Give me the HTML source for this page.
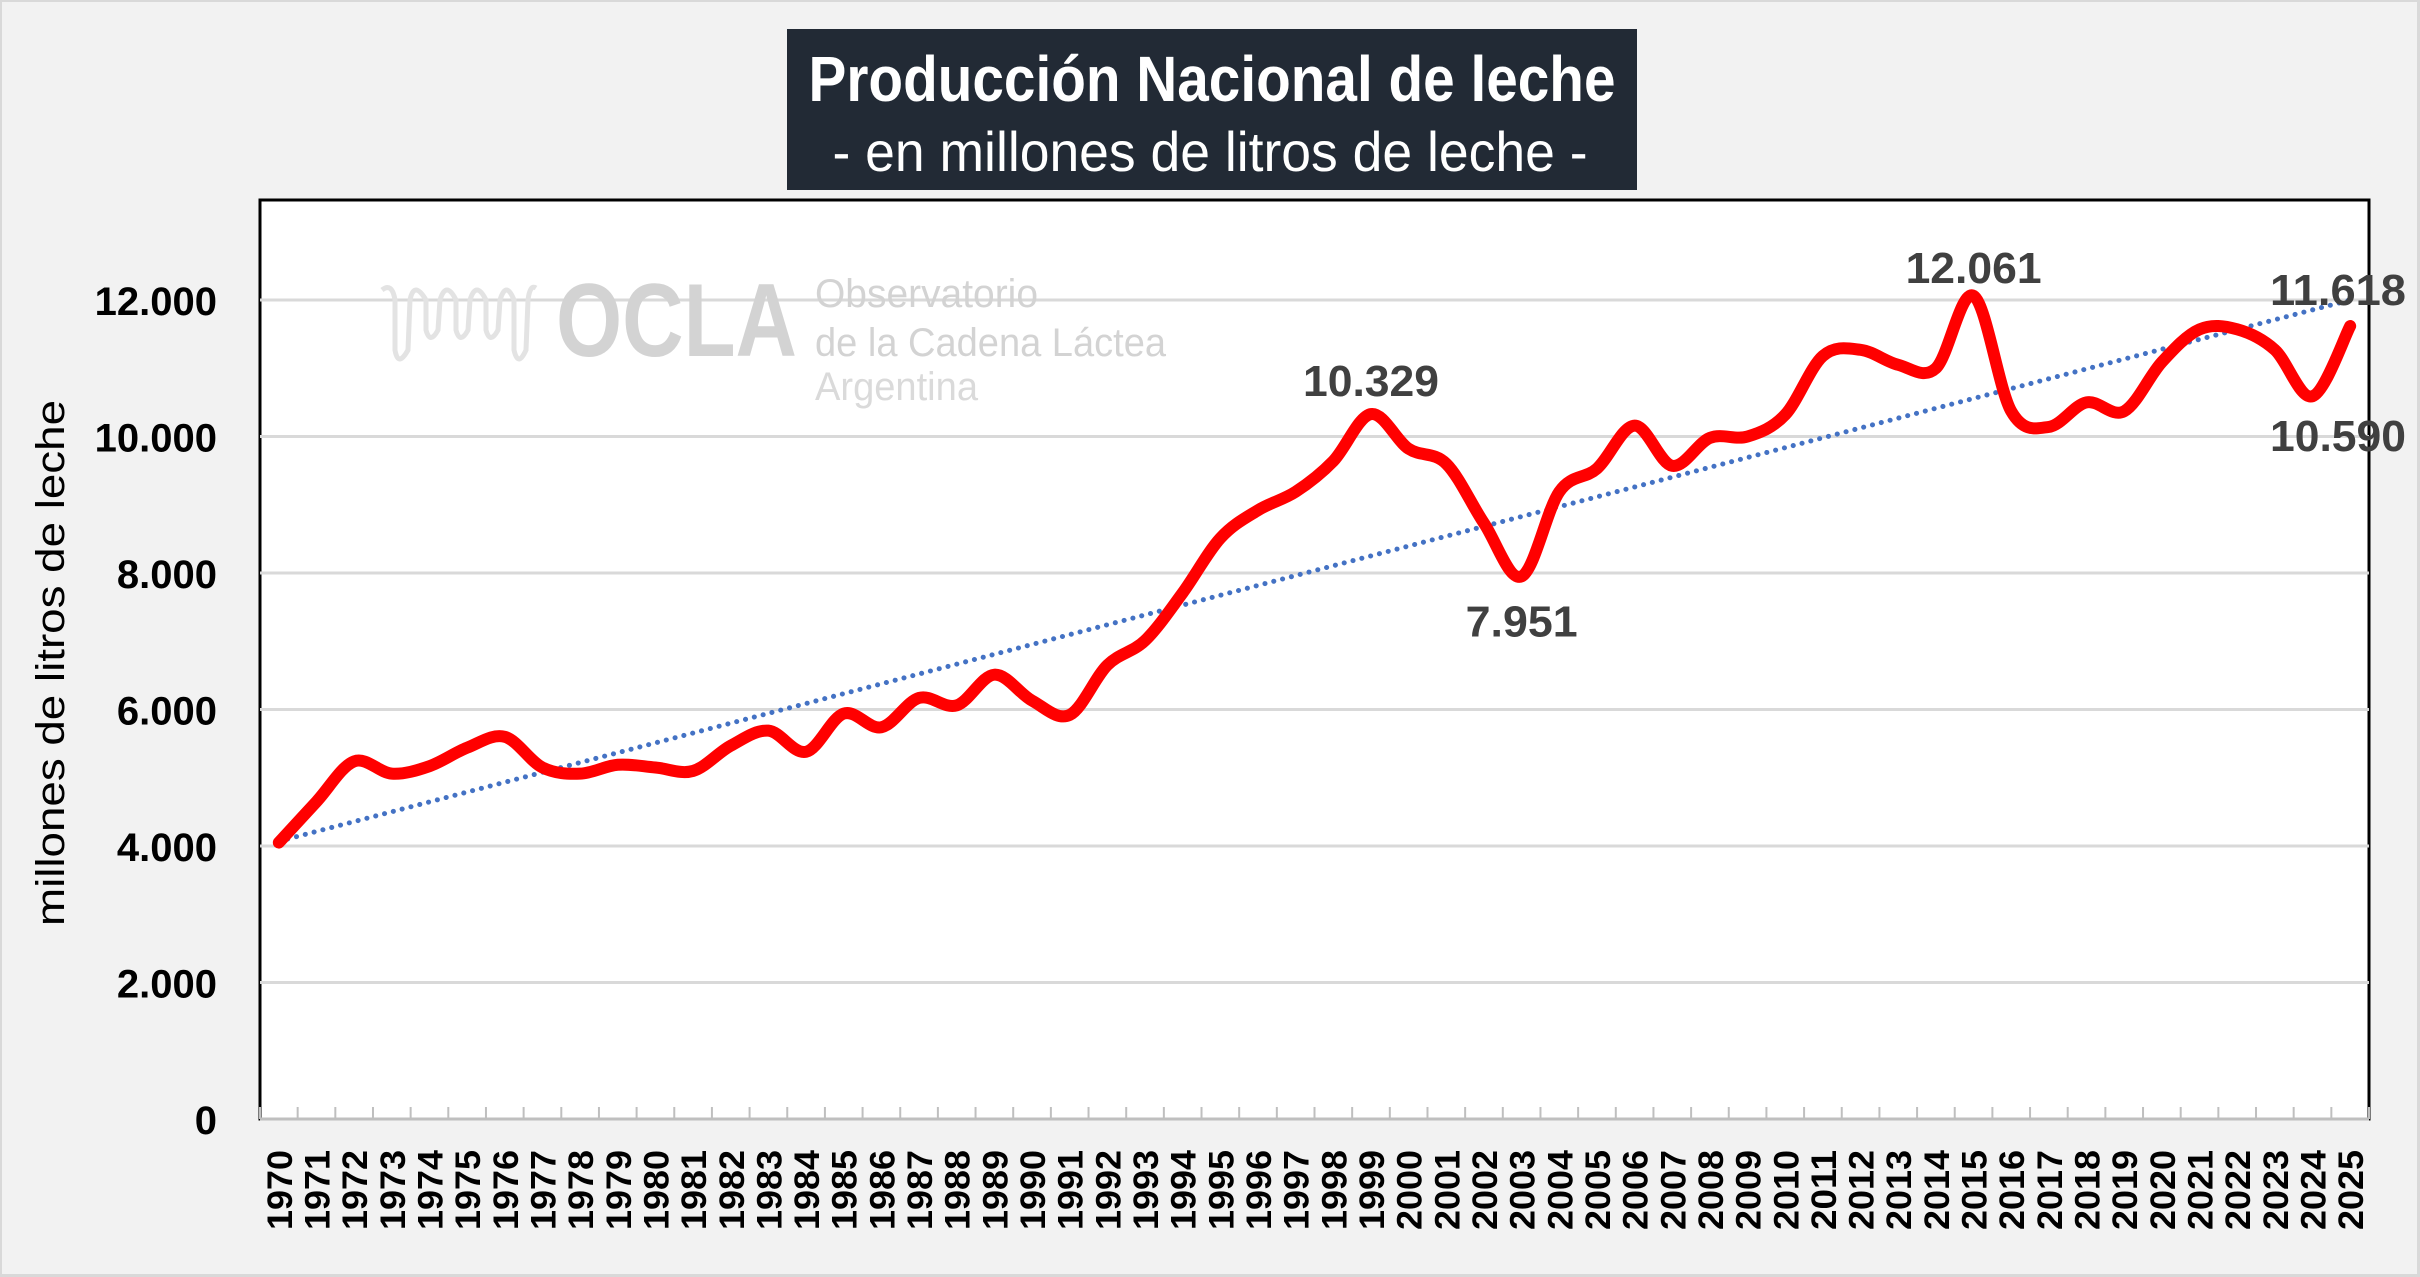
<!DOCTYPE html>
<html><head><meta charset="utf-8"><style>
html,body{margin:0;padding:0;background:#f2f2f2;}
svg{display:block;}
text{font-family:"Liberation Sans",sans-serif;}
</style></head><body>
<svg id="chart" width="2420" height="1277" viewBox="0 0 2420 1277" xmlns="http://www.w3.org/2000/svg">
<rect x="0.5" y="0.5" width="2418" height="1275" fill="#f2f2f2" stroke="#d9d9d9" stroke-width="3"/>
<rect x="260" y="200" width="2109" height="919" fill="#fff" stroke="#000" stroke-width="3"/>
<g id="grid"></g>
<g>
<g fill="none" stroke="#e3e3e3" stroke-width="5">
<path d="M382 290 Q392 282 395 300 L395 350 Q398 368 408 350 L410 300 Q414 280 426 300 L426 330 Q430 345 438 330 L440 300 Q446 280 456 300 L456 330 Q460 345 468 330 L470 300 Q476 280 486 300 L486 330 Q490 345 498 330 L500 300 Q506 280 514 300 L514 350 Q518 368 526 350 L528 300 Q530 284 536 288"/>
</g>
<text x="556" y="356" font-size="104" font-weight="bold" fill="#d3d3d3" textLength="241" lengthAdjust="spacingAndGlyphs">OCLA</text>
<text x="815" y="307" font-size="40" fill="#d3d3d3" textLength="223" lengthAdjust="spacingAndGlyphs">Observatorio</text>
<text x="815" y="356" font-size="40" fill="#d3d3d3" textLength="351" lengthAdjust="spacingAndGlyphs">de la Cadena Láctea</text>
<text x="815" y="400" font-size="40" fill="#dadada" textLength="163" lengthAdjust="spacingAndGlyphs">Argentina</text>
</g>
<g id="ylabels"></g>
<text transform="translate(64,663) rotate(-90)" text-anchor="middle" font-size="40" fill="#000" textLength="526" lengthAdjust="spacingAndGlyphs">millones de litros de leche</text>
<line x1="260" y1="1119" x2="2369" y2="1119" stroke="#bfbfbf" stroke-width="3"/>
<g id="xticks"></g>
<g id="xlabels"></g>
<path id="trend" fill="none" stroke="#4472c4" stroke-width="5" stroke-dasharray="0.1 9" stroke-linecap="round"/>
<path id="series" fill="none" stroke="#ff0000" stroke-width="12" stroke-linejoin="round" stroke-linecap="round"/>
<g id="dlabels"></g>
<g>
<rect x="787" y="29" width="850" height="161" fill="#222a35"/>
<text x="1212" y="101" text-anchor="middle" font-size="64" font-weight="bold" fill="#fff" textLength="807" lengthAdjust="spacingAndGlyphs">Producción  Nacional  de leche</text>
<text x="1210" y="171" text-anchor="middle" font-size="56" fill="#fff" textLength="755" lengthAdjust="spacingAndGlyphs">- en millones de litros de leche -</text>
</g>
</svg>
<script>
const years = [];
for (let y = 1970; y <= 2025; y++) years.push(String(y));
const production = [4050,4650,5240,5060,5170,5440,5600,5150,5060,5190,5150,5100,5470,5690,5380,5940,5740,6170,6060,6510,6130,5920,6650,7010,7710,8510,8920,9190,9640,10329,9820,9600,8730,7951,9190,9530,10160,9570,9980,10000,10320,11180,11270,11050,11000,12061,10370,10140,10500,10370,11090,11570,11570,11270,10590,11618];
const yTicks = [0,2000,4000,6000,8000,10000,12000];
const yTickLabels = ["0","2.000","4.000","6.000","8.000","10.000","12.000"];
const labelYears = ["1999","2003","2015","2025","2024"];
const labelTexts = ["10.329","7.951","12.061","11.618","10.590"];

const NS = "http://www.w3.org/2000/svg";
const left = 260, right = 2369, bottom = 1119;
const catW = (right - left) / years.length;
const xPos = i => left + catW * (i + 0.5);
const yPos = v => bottom - v * 0.06825;
function mk(tag, attrs, parent) {
  const e = document.createElementNS(NS, tag);
  for (const k in attrs) e.setAttribute(k, attrs[k]);
  parent.appendChild(e);
  return e;
}
const grid = document.getElementById('grid');
const yl = document.getElementById('ylabels');
yTicks.forEach((t, i) => {
  if (t > 0) {
    const g = mk('line', {x1: left, x2: right, y1: yPos(t), y2: yPos(t), stroke: '#d9d9d9', 'stroke-width': 3}, grid);
    
    
  }
  const tx = mk('text', {x: 217, y: yPos(t) + 15, 'text-anchor': 'end', 'font-size': 40, 'font-weight': 'bold', fill: '#000'}, yl);
  tx.textContent = yTickLabels[i];
  
  
});
const xt = document.getElementById('xticks');
const xl = document.getElementById('xlabels');
for (let i = 0; i <= years.length; i++) {
  const x = left + catW * i;
  const l = mk('line', {x1: x, x2: x, y1: 1107, y2: 1119, stroke: '#bfbfbf', 'stroke-width': 2}, xt);
  
  
}
years.forEach((yr, i) => {
  const x = xPos(i) + 13;
  const t = mk('text', {transform: `translate(${x},1150) rotate(-90)`, 'text-anchor': 'end', 'font-size': 35, 'font-weight': 'bold', fill: '#000', textLength: 80, lengthAdjust: 'spacingAndGlyphs'}, xl);
  t.textContent = yr;
  
  
});
const pts = production.map((v, i) => [xPos(i), yPos(v)]);
let d = `M${pts[0][0]},${pts[0][1]}`;
for (let i = 0; i < pts.length - 1; i++) {
  const p0 = pts[Math.max(0, i - 1)], p1 = pts[i], p2 = pts[i + 1], p3 = pts[Math.min(pts.length - 1, i + 2)];
  const c1 = [p1[0] + (p2[0] - p0[0]) / 6, p1[1] + (p2[1] - p0[1]) / 6];
  const c2 = [p2[0] - (p3[0] - p1[0]) / 6, p2[1] - (p3[1] - p1[1]) / 6];
  d += ` C${c1[0]},${c1[1]} ${c2[0]},${c2[1]} ${p2[0]},${p2[1]}`;
}
document.getElementById('series').setAttribute('d', d);
const n = production.length;
let sx = 0, sy = 0, sxy = 0, sxx = 0;
production.forEach((v, i) => { sx += i; sy += v; sxy += i * v; sxx += i * i; });
const slope = (n * sxy - sx * sy) / (n * sxx - sx * sx);
const icpt = (sy - slope * sx) / n;
document.getElementById('trend').setAttribute('d', `M${xPos(0)},${yPos(icpt - 150)} L${xPos(n - 1)},${yPos(icpt - 150 + slope * (n - 1))}`);
const dl = document.getElementById('dlabels');
labelYears.forEach((yr, k) => {
  const i = years.indexOf(yr);
  const v = production[i];
  let x = xPos(i), y;
  if (yr === '1999') y = yPos(v) - 18;
  else if (yr === '2003') y = yPos(v) + 60;
  else if (yr === '2015') y = yPos(v) - 13;
  else if (yr === '2025') { x = 2338; y = yPos(v) - 21; }
  else { x = 2338; y = yPos(v) + 55; }
  const t = mk('text', {x: x, y: y, 'text-anchor': 'middle', 'font-size': 44, 'font-weight': 'bold', fill: '#404040', textLength: yr === '2003' ? 112 : 136, lengthAdjust: 'spacingAndGlyphs'}, dl);
  t.textContent = labelTexts[k];
  
  
});
</script>
</body></html>
